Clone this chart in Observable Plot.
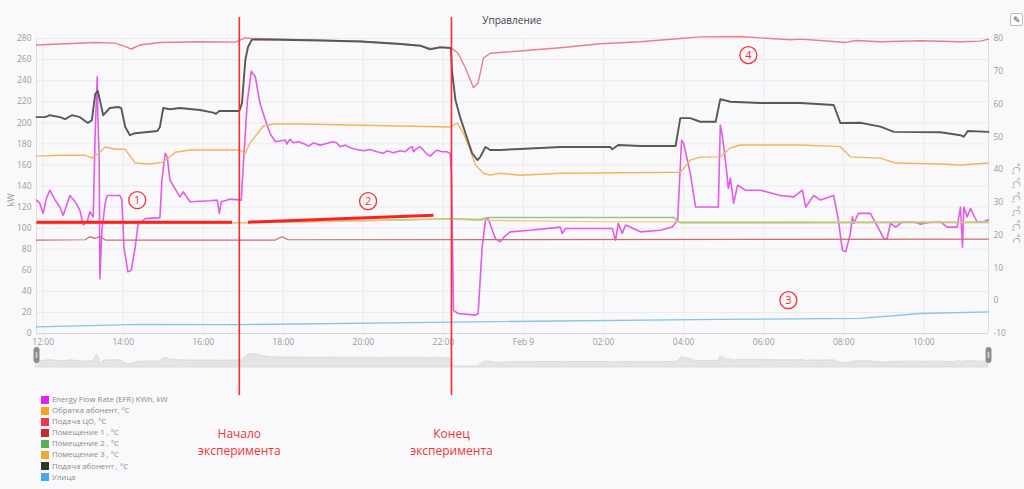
<!DOCTYPE html>
<html><head><meta charset="utf-8">
<script src="https://cdn.jsdelivr.net/npm/d3@7"></script>
<script src="https://cdn.jsdelivr.net/npm/@observablehq/plot@0.6"></script>
<style>
html,body{margin:0;padding:0;background:#f9f9fb;}
#wrap{position:relative;width:1024px;height:489px;overflow:hidden;font-family:"Open Sans",sans-serif;background:#f9f9fb;}
#wrap > svg, #wrap > div.abs{position:absolute;}
.leg{position:absolute;left:41px;top:394px;font-size:7.8px;color:#8a8a8a;line-height:11.1px;}
.leg .row{display:flex;align-items:center;height:11.1px;white-space:nowrap;}
.leg .sw{width:8px;height:8px;margin-right:3px;flex:none;}
</style></head><body><div id="wrap"></div>
<script>
// ---------- data ----------
const seriesNames = ["Energy Flow Rate (EFR) KWh, kW","Обратка абонент, °C","Подача ЦО, °C","Помещение 1 , °C","Помещение 2 , °C","Помещение 3 , °C","Подача абонент , °C","Улица"];
const legendColors = ["#e61ef0","#f5a31d","#ec3a4c","#c52a35","#52b352","#f0a830","#2b3a2b","#4aa8ea"];
const lineColors = ["#e35ce9","#f2b45a","#e8808a","#cf6a6a","#8cc98a","#f2c27a","#545b54","#86c4ea"];

const efrTimes = ["11:50","11:55","12:00","12:05","12:10","12:18","12:25","12:30","12:40","12:48","12:55","13:00","13:06","13:10","13:15","13:18","13:21","13:22","13:24","13:25","13:28","13:33","13:36","13:55","13:58","14:01","14:07","14:12","14:18","14:22","14:33","14:55","14:58","15:03","15:06","15:10","15:25","15:30","15:40","16:10","16:21","16:24","16:27","16:40","16:57","17:00","17:06","17:12","17:18","17:25","17:33","17:40","17:48","18:03","18:05","18:10","18:15","18:23","18:30","18:38","18:45","18:55","19:05","19:13","19:20","19:25","19:33","19:40","19:50","20:00","20:10","20:20","20:30","20:35","20:45","20:55","21:03","21:08","21:13","21:15","21:20","21:25","21:30","21:35","21:40","21:45","21:50","21:58","22:05","22:10","22:12","22:15","22:22","22:48","22:52","22:58","23:03","23:07","23:18","23:25","23:33","23:40","00:10","00:55","00:58","01:03","01:55","02:13","02:18","02:22","02:28","02:33","02:55","03:25","03:43","03:51","03:57","04:00","04:10","04:18","04:52","04:55","04:58","05:04","05:07","05:10","05:15","05:21","05:33","05:55","06:25","06:45","06:58","07:03","07:15","07:25","07:45","07:52","07:58","08:03","08:10","08:13","08:15","08:22","08:40","08:48","08:55","09:00","09:05","09:10","09:18","09:28","09:45","09:55","10:07","10:25","10:35","10:50","10:55","10:58","11:00","11:05","11:10","11:15","11:20","11:30","11:37"];
const efrKW = [126.6,123.5,114,128.5,136,126.6,120,112,131,125,117,103,106,115.5,110.7,190,243.7,205,165,52,98,123.7,131,131,126.6,82,58.5,60,82,103,109,110,145.7,171,167.5,145.6,129.7,134.5,125,126,126.6,114,125,127.5,126.6,160,220,249,243.7,218.5,202.6,190,182,183.6,179.8,184.2,181,182,180.4,177.9,181,178.8,180.4,182,181,177.2,178.8,176.3,174.7,173.4,174.7,172.5,171,173.4,171.5,173.4,172.5,175.7,177.2,172.5,175.7,177.2,174,170.3,168.4,171.5,174,172.5,172.5,171,150,22,19,17.4,19,82,107.6,109,90,87,93,96.5,98,101,95,99.7,99.7,99.7,88.6,104.5,95,103,96.5,98,101,107.6,183.6,180.7,152,120,120,197.8,188,156.7,137.7,147.5,123.7,140.8,136,136,131,129.7,136,120,131,126.6,131,107.6,79,77.5,95,110.7,104.5,114,114,104.5,96.5,90,90,104.5,101,106,106,103.8,105.4,106,101,101,120,82,120,110.7,118.7,112,106,106,108];

const returnTimes = ["11:50","12:25","13:03","13:13","13:25","13:33","13:48","14:03","14:18","14:40","15:00","15:18","15:40","16:54","17:03","17:10","17:30","17:45","18:25","20:55","22:10","22:21","22:30","22:40","22:48","23:00","23:10","23:25","23:55","00:55","03:55","04:10","04:25","04:55","05:10","05:25","06:55","07:55","08:10","08:55","09:18","10:25","10:55","11:37"];
const returnC = [44.1,44.4,44.4,43.5,45.3,46.9,46.2,46.2,42.0,41.7,42.3,45.3,46.0,46.0,45.0,48.1,53.3,53.9,53.9,53.3,53.0,54.2,51.0,46.0,41.4,38.9,38.3,38.9,38.3,38.9,39.2,42.9,43.8,43.9,46.6,47.5,47.5,47.0,43.9,43.5,42.0,41.7,41.4,42.0];

const supplyCoTimes = ["11:50","12:25","13:18","13:48","14:03","14:12","14:25","14:55","15:55","16:48","17:03","17:13","17:55","18:55","19:55","20:55","21:25","21:40","21:55","22:11","22:22","22:33","22:45","22:52","23:00","23:10","23:55","00:55","01:55","02:55","03:55","04:25","05:25","05:55","06:40","06:55","07:25","08:03","08:18","08:55","09:55","10:55","11:25","11:37"];
const supplyCoC = [78.0,78.3,78.8,78.6,77.5,76.8,78.0,78.8,79.0,78.9,80.2,80.0,79.8,79.5,79.2,78.4,77.9,77.0,77.4,77.2,75.5,71.0,65.0,66.5,74.0,75.5,76.2,77.2,78.4,79.0,80.0,80.5,80.6,80.2,79.6,79.8,79.4,78.8,79.4,79.0,79.3,79.0,79.2,79.8];

const room1Times = ["11:50","13:03","13:10","13:18","13:25","13:33","17:48","17:58","18:07","11:37"];
const room1C = [18.5,18.6,19.5,19.0,19.6,18.5,18.5,19.5,18.6,18.8];

const room2Times = ["11:50","16:55","18:25","22:10","22:55","23:06","03:45","03:55","11:37"];
const room2C = [23.6,23.8,24.1,25.0,24.8,25.4,25.4,23.8,23.9];

const room3Times = ["11:50","18:25","22:10","22:40","01:55","11:37"];
const room3C = [23.5,24.0,24.9,24.6,24.1,24.0];

const supplyAbTimes = ["11:50","12:03","12:10","12:25","12:33","12:43","12:55","13:07","13:13","13:18","13:22","13:25","13:30","13:40","13:52","13:57","14:03","14:10","14:18","14:33","14:51","14:55","15:00","15:10","15:25","15:55","16:15","16:19","16:24","16:54","16:58","17:03","17:07","17:13","17:55","18:55","19:55","20:55","21:25","21:40","21:55","22:11","22:13","22:18","22:25","22:33","22:43","22:51","22:55","23:03","23:10","23:25","23:55","00:55","02:10","02:13","02:22","02:55","03:48","03:55","04:10","04:25","04:48","04:55","05:10","05:55","06:55","07:45","07:55","08:25","08:55","09:15","10:25","10:55","11:00","11:06","11:37"];
const supplyAbC = [56.0,56.0,56.6,56.0,55.4,56.6,56.0,54.2,55.1,63.0,64.0,61.2,56.6,58.8,59.1,58.8,53.0,50.5,51.1,51.4,51.8,53.0,58.8,58.4,58.8,58.2,57.4,57.0,57.9,57.9,60.3,73.4,77.4,79.7,79.6,79.4,79.1,78.3,77.8,76.7,77.3,77.1,69.8,61.2,56.0,51.1,45.0,42.9,43.8,46.9,46.0,46.0,46.3,46.9,46.9,46.2,47.5,47.2,47.2,55.7,55.7,54.6,54.6,61.5,60.7,60.3,60.3,59.7,54.2,54.3,53.1,51.5,51.4,50.5,50.0,51.8,51.5];

const streetTimes = ["11:50","13:25","14:25","16:55","22:15","04:55","08:25","09:55","11:37"];
const streetC = [-8.0,-7.5,-7.2,-7.3,-6.5,-5.7,-5.4,-3.9,-3.4];

const xDomainISO = ["2021-02-08T11:50","2021-02-09T11:37"];
const xTickTimes = ["12:00","14:00","16:00","18:00","20:00","22:00","00:00","02:00","04:00","06:00","08:00","10:00"];
const xTickLabels = ["12:00","14:00","16:00","18:00","20:00","22:00","Feb 9","02:00","04:00","06:00","08:00","10:00"];
const kwTicks = [0,20,40,60,80,100,120,140,160,180,200,220,240,260,280];
const tempTicks = [-10,0,10,20,30,40,50,60,70,80];
const rightAxisTitle = "°C, °C, °C, °C, °C, °C";
const chartTitle = "Управление";

// hand-drawn annotations
const expISO = ["2021-02-08T16:54","2021-02-08T22:12"];
const expLabels = ["Начало\nэксперимента","Конец\nэксперимента"];
const markerISO = ["2021-02-08T14:21","2021-02-08T20:07","2021-02-09T06:37","2021-02-09T05:37"];
const markerKW = [126.6,125.6,31.6,264.3];
const markerText = ["1","2","3","4"];
const segStartISO = ["2021-02-08T11:50","2021-02-08T17:07"];
const segEndISO = ["2021-02-08T16:43","2021-02-08T21:45"];
const segStartKW = [105.7,105.7];
const segEndKW = [105.7,112.3];

// ---------- helpers ----------
const iso = s => new Date(s + ":00Z");
function toDates(times){
  let day = 8, prev = -1;
  return times.map(s => {
    const [h,m] = s.split(":").map(Number);
    const mins = h*60+m;
    if (mins < prev) day++;
    prev = mins;
    return new Date(Date.UTC(2021,1,day,h,m));
  });
}
const tToKw = t => (t + 10) * 280 / 90;
const kwToT = k => k * 90 / 280 - 10;
const mk = (times, vals) => { const d = toDates(times); return d.map((t,i)=>({t, v: vals[i]})); };

const xDomain = xDomainISO.map(iso);
const xTicks = toDates(xTickTimes);
const labelMap = new Map(xTicks.map((d,i)=>[+d, xTickLabels[i]]));

const efr = mk(efrTimes, efrKW);
const tempSeries = [
  {i:1, data: mk(returnTimes, returnC), w:1.4},
  {i:2, data: mk(supplyCoTimes, supplyCoC), w:1.4},
  {i:3, data: mk(room1Times, room1C), w:1.2},
  {i:4, data: mk(room2Times, room2C), w:1.6},
  {i:5, data: mk(room3Times, room3C), w:1.2},
  {i:6, data: mk(supplyAbTimes, supplyAbC), w:1.9},
  {i:7, data: mk(streetTimes, streetC), w:1.3}
];
const exps = expISO.map((s,i)=>({t: iso(s), label: expLabels[i]}));
const markers = markerISO.map((s,i)=>({t: iso(s), v: markerKW[i], n: markerText[i]}));
const segs = segStartISO.map((s,i)=>({t1: iso(s), v1: segStartKW[i], t2: iso(segEndISO[i]), v2: segEndKW[i]}));

const wrap = document.getElementById("wrap");
const font = "'Open Sans', sans-serif";

// ---------- navigator ----------
const nav = Plot.plot({
  width: 1024, height: 22, marginTop: 0, marginBottom: 0, marginLeft: 36, marginRight: 36,
  style: {background: "transparent", overflow: "visible"},
  x: {type: "utc", domain: xDomain, axis: null},
  y: {domain: [0, 400], axis: null},
  marks: [
    Plot.areaY(efr, {x: "t", y: "v", fill: "#e4e4e7", stroke: "#d8d8dc", strokeWidth: 0.8}),
    Plot.ruleX(xDomain, {stroke: "#8e8e8e", strokeWidth: 6, strokeLinecap: "round", insetTop: 5, insetBottom: 7}),
    Plot.ruleX(xDomain, {stroke: "#d4d4d4", strokeWidth: 1.5, insetTop: 7, insetBottom: 9})
  ]
});
nav.style.left = "0px"; nav.style.top = "345px";
wrap.appendChild(nav);

// ---------- main chart ----------
const red = "#f23434";
const main = Plot.plot({
  width: 1024, height: 489, marginTop: 38, marginBottom: 156, marginLeft: 36, marginRight: 36,
  style: {background: "transparent", color: "#9a9a9a", fontFamily: font, fontSize: "8.5px", overflow: "visible"},
  x: {type: "utc", domain: xDomain},
  y: {domain: [0, 280]},
  marks: [
    Plot.gridY(kwTicks, {stroke: "#ebebef", strokeOpacity: 1}),
    Plot.gridX(xTicks, {stroke: "#ebebef", strokeOpacity: 1}),
    Plot.ruleY([0], {stroke: "#d6d6da"}),
    Plot.ruleX(xDomain, {stroke: "#e0e0e4"}),
    Plot.axisY(kwTicks, {anchor: "left", tickSize: 0, tickPadding: 5, label: null}),
    Plot.axisY(tempTicks.map(tToKw), {anchor: "right", tickSize: 0, tickPadding: 5, label: null, tickFormat: d => String(Math.round(kwToT(d)))}),
    Plot.axisX(xTicks, {anchor: "bottom", tickSize: 0, tickPadding: 5, label: null, tickFormat: d => labelMap.get(+d)}),
    Plot.line(efr, {x: "t", y: "v", stroke: lineColors[0], strokeWidth: 1.6}),
    ...tempSeries.map(s => Plot.line(s.data, {x: "t", y: d => tToKw(d.v), stroke: lineColors[s.i], strokeWidth: s.w})),
    // annotations
    Plot.link(segs, {x1: "t1", y1: "v1", x2: "t2", y2: "v2", stroke: "#ff1f1f", strokeWidth: 3}),
    Plot.ruleX(exps, {x: "t", stroke: "#ff2b2b", strokeWidth: 1.6, insetTop: -21, insetBottom: -62}),
    Plot.text(exps, {x: "t", text: "label", frameAnchor: "bottom", dy: 121, fill: red, fontSize: 12, lineHeight: 1.35, textAnchor: "middle", fontFamily: font}),
    Plot.dot(markers, {x: "t", y: "v", r: 8.5, stroke: red, strokeWidth: 1.3, fill: "none"}),
    Plot.text(markers, {x: "t", y: "v", text: "n", fill: red, fontSize: 11, fontFamily: font})
  ]
});
main.style.left = "0px"; main.style.top = "0px";
wrap.appendChild(main);

// ---------- html overlays ----------
function abs(html, css){ const d = document.createElement("div"); d.className = "abs"; d.style.cssText = css; d.innerHTML = html; wrap.appendChild(d); return d; }
abs(chartTitle, "left:512px;top:20px;transform:translate(-50%,-50%);font-size:10px;color:#444;white-space:nowrap;");
abs("kW", "left:10px;top:200px;transform:translate(-50%,-50%) rotate(-90deg);font-size:9px;color:#999;");
abs(rightAxisTitle, "left:1016px;top:203px;transform:translate(-50%,-50%) rotate(90deg);font-size:9px;color:#999;white-space:nowrap;");
abs("✎", "left:1010px;top:13px;width:11px;height:11px;border:1px solid #bbb;border-radius:2px;font-size:9px;line-height:11px;text-align:center;color:#333;background:#fff;");

const leg = document.createElement("div");
leg.className = "leg";
seriesNames.forEach((n,i) => {
  const r = document.createElement("div"); r.className = "row";
  r.innerHTML = `<span class="sw" style="background:${legendColors[i]}"></span><span>${n}</span>`;
  leg.appendChild(r);
});
wrap.appendChild(leg);
</script>
</body></html>
